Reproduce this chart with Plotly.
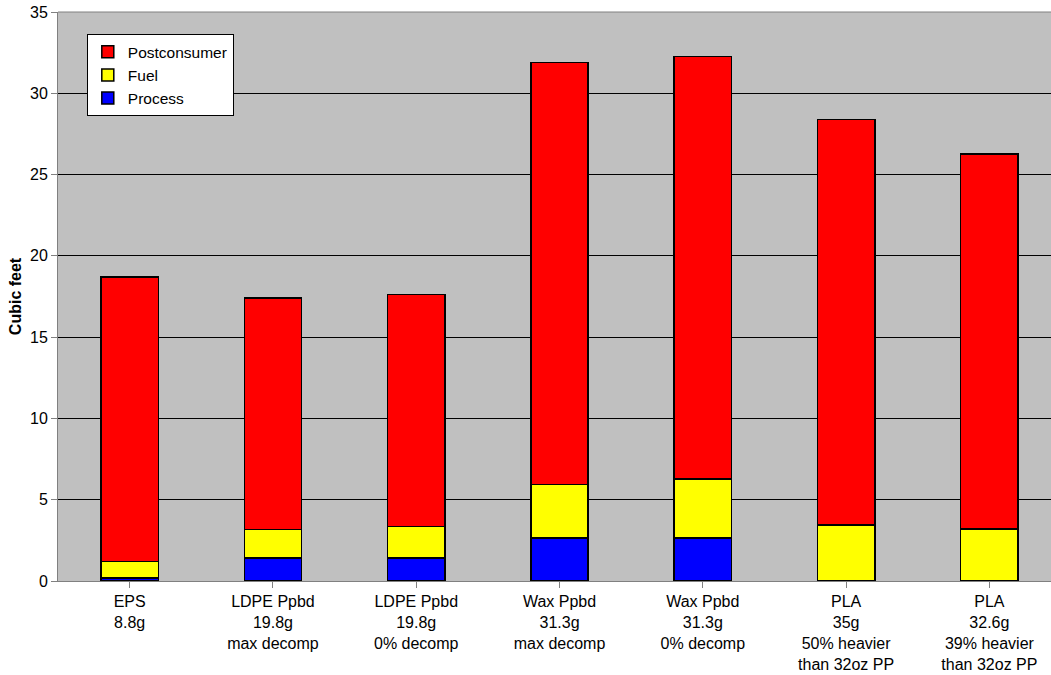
import plotly.graph_objects as go

categories = [
    "EPS<br>8.8g",
    "LDPE Ppbd<br>19.8g<br>max decomp",
    "LDPE Ppbd<br>19.8g<br>0% decomp",
    "Wax Ppbd<br>31.3g<br>max decomp",
    "Wax Ppbd<br>31.3g<br>0% decomp",
    "PLA<br>35g<br>50% heavier<br>than 32oz PP",
    "PLA<br>32.6g<br>39% heavier<br>than 32oz PP",
]
process = [0.2, 1.41, 1.41, 2.63, 2.63, 0.0, 0.0]
fuel = [1.0, 1.75, 1.95, 3.32, 3.64, 3.44, 3.2]
postconsumer = [17.5, 14.26, 14.27, 25.95, 25.98, 24.95, 23.06]
y_ticks = [0, 5, 10, 15, 20, 25, 30, 35]

FONT = "Liberation Sans, Arial, sans-serif"

fig = go.Figure()
for name, vals, col in [("Process", process, "#0000FF"),
                        ("Fuel", fuel, "#FFFF00"),
                        ("Postconsumer", postconsumer, "#FF0000")]:
    fig.add_trace(go.Bar(
        x=list(range(len(categories))), y=vals, name=name,
        marker=dict(color=col, line=dict(color="black", width=1.5)),
        width=0.4,
    ))

fig.update_layout(
    barmode="stack",
    width=1051, height=675,
    margin=dict(l=58, r=0, t=12, b=94, autoexpand=False),
    paper_bgcolor="white",
    plot_bgcolor="#C0C0C0",
    font=dict(family=FONT, size=16, color="black"),
    showlegend=True,
    legend=dict(
        x=0.029, y=0.961, xanchor="left", yanchor="top",
        bgcolor="white", bordercolor="black", borderwidth=1,
        traceorder="reversed",
        font=dict(family=FONT, size=15.5),
        itemwidth=30,
    ),
    xaxis=dict(
        tickmode="array",
        tickvals=list(range(len(categories))),
        ticktext=categories,
        range=[-0.5, 6.43],
        showgrid=False,
        ticks="outside",
        tickson="boundaries",
        ticklen=6,
        tickcolor="#808080",
        showline=True, linecolor="#808080", linewidth=1,
        tickfont=dict(family=FONT, size=16),
        automargin=False,
    ),
    yaxis=dict(
        range=[0, 35],
        tickvals=y_ticks,
        showgrid=True, gridcolor="black", gridwidth=1,
        ticks="outside", ticklen=6, tickcolor="#808080",
        showline=True, linecolor="#808080", linewidth=1,
        zeroline=False,
        title=dict(text="<b>Cubic feet</b>", font=dict(family=FONT, size=16), standoff=4),
        tickfont=dict(family=FONT, size=16),
        automargin=False,
    ),
)
fig.add_shape(type="line", xref="paper", yref="paper", x0=0, x1=1, y0=1, y1=1,
              line=dict(color="#808080", width=1))

# remove the browser's default 8px body margin so the figure fills the window
fig.write_html("out.html", config={"displayModeBar": False},
               post_script="document.body.style.margin='0px';")
